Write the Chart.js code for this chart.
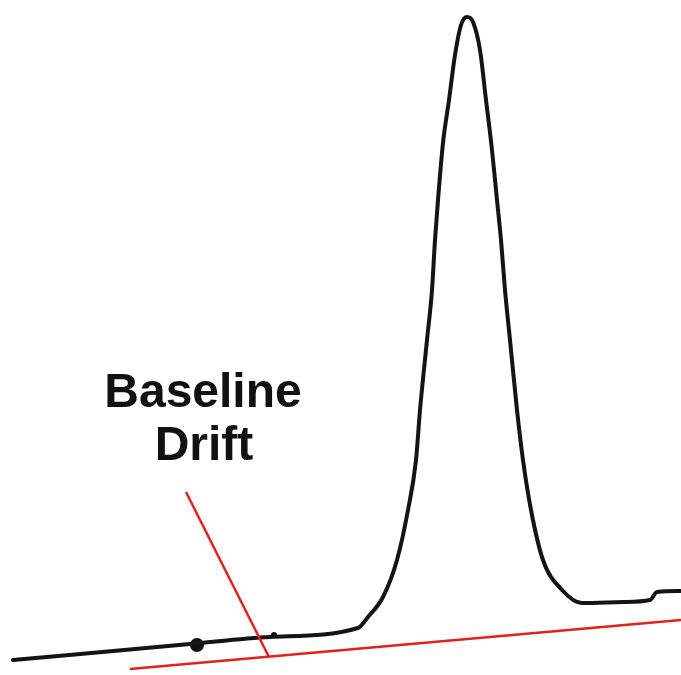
<!DOCTYPE html>
<html>
<head>
<meta charset="utf-8">
<script src="https://cdn.jsdelivr.net/npm/chart.js@4/dist/chart.umd.min.js"></script>
<style>
  html, body { margin: 0; padding: 0; background: #fff; }
  #wrap { width: 681px; height: 675px; }
</style>
</head>
<body>
<div id="wrap"><canvas id="chart" width="681" height="675"></canvas></div>
<script>
// detector signal (time, response)
var traceTime = [13, 190, 270, 358, 368, 383, 397, 408, 416, 420, 427, 432, 435, 438, 443, 449, 455, 461, 467,
                 473, 480, 486, 492, 497, 501, 505, 510, 517, 523, 531, 543, 562, 582, 623, 650, 657, 681];
var traceSignal = [15, 31, 38, 47, 58, 78, 115, 165, 215, 265, 335, 385, 435, 475, 532, 575, 620, 650, 658,
                   653, 625, 575, 525, 475, 435, 385, 335, 265, 215, 165, 115, 85, 72, 73, 75, 83, 84];

// drifting baseline (red)
var driftTime = [130, 681];
var driftSignal = [6, 55];

// pointer from label to baseline
var pointerTime = [186, 269];
var pointerSignal = [183, 18];

// small blobs on the trace
var blobTime = [197, 274];
var blobSignal = [30, 40];
var blobSize = [7, 3];

// label
var labelLines = ["Baseline", "Drift"];
var labelTime = [203, 204];
var labelSignal = [268, 215];

function pairs(xs, ys) {
  return xs.map(function(x, i) { return {x: x, y: ys[i]}; });
}

var labelPlugin = {
  id: 'driftLabel',
  afterDatasetsDraw: function(chart) {
    var ctx = chart.ctx;
    var sx = chart.scales.x, sy = chart.scales.y;
    ctx.save();
    ctx.fillStyle = '#111';
    ctx.font = 'bold 48px "Liberation Sans", Arial, sans-serif';
    ctx.textAlign = 'center';
    ctx.textBaseline = 'alphabetic';
    for (var i = 0; i < labelLines.length; i++) {
      ctx.fillText(labelLines[i], sx.getPixelForValue(labelTime[i]), sy.getPixelForValue(labelSignal[i]));
    }
    ctx.restore();
  }
};

var ctx = document.getElementById('chart').getContext('2d');
new Chart(ctx, {
  type: 'scatter',
  data: {
    datasets: [
      {
        label: 'drift',
        data: pairs(driftTime, driftSignal),
        showLine: true,
        borderColor: '#e3201b',
        borderWidth: 2.5,
        pointRadius: 0,
        tension: 0
      },
      {
        label: 'pointer',
        data: pairs(pointerTime, pointerSignal),
        showLine: true,
        borderColor: '#e3201b',
        borderWidth: 2.5,
        pointRadius: 0,
        tension: 0
      },
      {
        label: 'trace',
        data: pairs(traceTime, traceSignal),
        showLine: true,
        borderColor: '#141414',
        borderWidth: 4,
        pointRadius: 0,
        cubicInterpolationMode: 'monotone',
        borderJoinStyle: 'round',
        borderCapStyle: 'round'
      },
      {
        label: 'blobs',
        data: pairs(blobTime, blobSignal),
        showLine: false,
        backgroundColor: '#111',
        borderWidth: 0,
        pointRadius: blobSize
      }
    ]
  },
  options: {
    responsive: false,
    animation: false,
    devicePixelRatio: 1,
    layout: { padding: 0, autoPadding: false },
    plugins: {
      legend: { display: false },
      tooltip: { enabled: false }
    },
    scales: {
      x: { type: 'linear', min: 0, max: 681, display: false },
      y: { type: 'linear', min: 0, max: 675, display: false }
    }
  },
  plugins: [labelPlugin]
});
</script>
</body>
</html>
